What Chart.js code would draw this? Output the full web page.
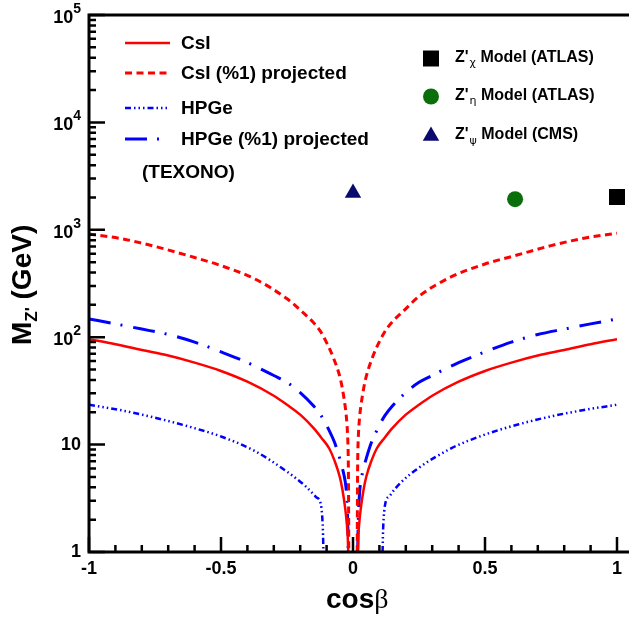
<!DOCTYPE html>
<html>
<head>
<meta charset="utf-8">
<title>Z' mass limits vs cos beta</title>
<script src="https://cdn.jsdelivr.net/npm/chart.js@4.4.0/dist/chart.umd.min.js"></script>
<style>
  html, body { margin: 0; padding: 0; background: #fff; }
  #chart { display: block; }
</style>
</head>
<body>
<canvas id="chart" width="629" height="620"></canvas>
<script>
// CsI (solid red) - two branches split by null
const csiX = [-1, -0.9, -0.8, -0.7, -0.6, -0.5, -0.4, -0.3, -0.25, -0.2, -0.15, -0.12, -0.09, -0.07, -0.05, -0.04, -0.03, -0.024, -0.02, -0.018, null,
              0.018, 0.02, 0.024, 0.03, 0.04, 0.05, 0.07, 0.09, 0.12, 0.15, 0.2, 0.25, 0.3, 0.4, 0.5, 0.6, 0.7, 0.8, 0.9, 1];
const csiY = [96, 86, 76, 67.5, 58, 48.5, 38.5, 28.5, 23.5, 19, 14.3, 11.6, 9.2, 7.1, 5, 3.8, 2.6, 1.9, 1.4, 1, null,
              1, 1.4, 1.9, 2.6, 3.8, 5, 7.1, 9.2, 11.6, 14.3, 19, 23.5, 28.5, 38.5, 48.5, 58, 67.5, 76, 86, 96];

// CsI (%1) projected (dashed red)
const csiProjX = [-1, -0.875, -0.75, -0.625, -0.5, -0.375, -0.25, -0.19, -0.15, -0.125, -0.1, -0.075, -0.05, -0.04, -0.03, -0.025, -0.02, -0.018, -0.017, -0.016, null,
                  0.016, 0.017, 0.018, 0.02, 0.025, 0.03, 0.04, 0.05, 0.075, 0.1, 0.125, 0.15, 0.19, 0.25, 0.375, 0.5, 0.625, 0.75, 0.875, 1];
const csiProjY = [915, 825, 700, 575, 464, 352, 228, 170, 137, 115, 89, 65, 43, 33, 23, 18, 11.5, 7.5, 4, 1, null,
                  1, 4, 7.5, 11.5, 18, 23, 33, 43, 66, 91, 117, 140, 174, 240, 368, 480, 585, 712, 835, 930];

// HPGe (blue dash-dot-dot-dot)
const hpgeX = [-1, -0.875, -0.75, -0.625, -0.5, -0.375, -0.25, -0.18, -0.14, -0.122, -0.117, -0.114, -0.112, null,
               0.112, 0.114, 0.117, 0.122, 0.14, 0.18, 0.25, 0.375, 0.5, 0.625, 0.75, 0.875, 1];
const hpgeY = [23.5, 20.8, 17.8, 14.8, 11.9, 8.8, 5.6, 4.1, 3.25, 2.8, 2.2, 1.6, 1, null,
               1, 1.6, 2.2, 2.8, 3.35, 4.4, 6.1, 9.3, 12.4, 15.4, 18.3, 21, 23.5];

// HPGe (%1) projected (blue long dash-dot)
const hpgeProjX = [-1, -0.9, -0.8, -0.7, -0.6, -0.5, -0.4, -0.3, -0.25, -0.2, -0.15, -0.12, -0.09, -0.07, -0.05, -0.04, -0.03, -0.025, -0.021, -0.019, -0.018, null,
                   0.018, 0.019, 0.021, 0.025, 0.03, 0.04, 0.05, 0.07, 0.09, 0.12, 0.15, 0.2, 0.25, 0.3, 0.4, 0.5, 0.6, 0.7, 0.8, 0.9, 1];
const hpgeProjY = [148, 133, 119, 106, 90, 73, 58, 44, 38, 30.5, 23, 18.5, 13.5, 10.5, 7.4, 6, 4.6, 3.6, 2.3, 1.5, 1, null,
                   1, 1.5, 2.3, 3.6, 4.6, 6, 7.4, 10.5, 13.5, 18.5, 23, 30.5, 38, 44, 58, 73, 90, 106, 119, 133, 148];

// Collider limits: chi (ATLAS), eta (ATLAS), psi (CMS)
const modelSub = ['χ', 'η', 'ψ'];
const modelExp = ['ATLAS', 'ATLAS', 'CMS'];
const modelX = [1, 0.614, 0];
const modelY = [2020, 1930, 2200];
const modelStyle = ['rect', 'circle', 'triangle'];
const modelColor = ['#000000', '#0a6e0a', '#0a0a6e'];
const modelRadius = [11.3, 8, 9.5];

// axis ticks
const xTicks = [-1, -0.5, 0, 0.5, 1];
const xTickLabels = ['-1', '-0.5', '0', '0.5', '1'];
const yTicks = [1, 10, 100, 1000, 10000, 100000];
const yTickBase = ['1', '10', '10', '10', '10', '10'];
const yTickSup = ['', '', '2', '3', '4', '5'];

const seriesNames = ['CsI', 'CsI (%1) projected', 'HPGe', 'HPGe (%1) projected'];
const seriesColor = ['#ff0000', '#ff0000', '#0000ff', '#0000ff'];
const seriesDash = [[], [7, 4.5], [6, 3, 1.5, 3, 1.5, 3, 1.5, 3], [22, 10, 2, 11]];
const seriesWidth = [2.5, 3, 2.5, 3];

const FONT = '"Liberation Sans", Arial, Helvetica, sans-serif';

function zip(xs, ys) {
    return xs.map((x, i) => ({ x: x, y: ys[i] }));
}

const curves = [[csiX, csiY], [csiProjX, csiProjY], [hpgeX, hpgeY], [hpgeProjX, hpgeProjY]];

const datasets = curves.map((c, i) => ({
    label: seriesNames[i],
    data: zip(c[0], c[1]),
    showLine: true,
    spanGaps: false,
    borderColor: seriesColor[i],
    borderWidth: seriesWidth[i],
    borderDash: seriesDash[i],
    cubicInterpolationMode: 'monotone',
    pointRadius: 0,
    fill: false
}));

datasets.push({
    label: 'models',
    data: zip(modelX, modelY),
    showLine: false,
    pointStyle: modelStyle,
    pointRadius: modelRadius,
    backgroundColor: modelColor,
    borderColor: modelColor,
    borderWidth: 0,
    clip: false
});

function drawMarker(ctx, style, x, y, r, color) {
    ctx.fillStyle = color;
    ctx.beginPath();
    if (style === 'rect') {
        const s = Math.SQRT1_2 * r;
        ctx.rect(x - s, y - s, 2 * s, 2 * s);
    } else if (style === 'circle') {
        ctx.arc(x, y, r, 0, Math.PI * 2);
    } else {
        ctx.moveTo(x, y - r);
        ctx.lineTo(x + r * Math.sin(Math.PI / 3), y + r / 2);
        ctx.lineTo(x - r * Math.sin(Math.PI / 3), y + r / 2);
        ctx.closePath();
    }
    ctx.fill();
}

const decorations = {
    id: 'decorations',
    afterDraw(chart) {
        const ctx = chart.ctx;
        const xs = chart.scales.x;
        const ys = chart.scales.y;
        const area = chart.chartArea;
        ctx.save();

        // frame: left axis, bottom axis, top line
        ctx.strokeStyle = '#000';
        ctx.lineWidth = 3;
        ctx.beginPath();
        ctx.moveTo(area.left - 1.5, area.top); ctx.lineTo(chart.width, area.top);
        ctx.moveTo(area.left, area.top); ctx.lineTo(area.left, area.bottom);
        ctx.moveTo(area.left - 1.5, area.bottom); ctx.lineTo(chart.width, area.bottom);
        ctx.stroke();

        // ticks, drawn inward
        ctx.lineWidth = 2.5;
        ctx.beginPath();
        for (let i = -10; i <= 10; i++) {
            const px = xs.getPixelForValue(i / 10);
            const len = (i % 5 === 0) ? 15 : 7;
            ctx.moveTo(px, area.bottom); ctx.lineTo(px, area.bottom - len);
        }
        for (let e = 0; e <= 5; e++) {
            const base = Math.pow(10, e);
            let py = ys.getPixelForValue(base);
            ctx.moveTo(area.left, py); ctx.lineTo(area.left + 16, py);
            if (e === 5) break;
            for (let m = 2; m < 10; m++) {
                py = ys.getPixelForValue(m * base);
                ctx.moveTo(area.left, py); ctx.lineTo(area.left + 7, py);
            }
        }
        ctx.stroke();

        // tick labels
        ctx.fillStyle = '#000';
        ctx.textBaseline = 'middle';
        ctx.textAlign = 'center';
        ctx.font = 'bold 18px ' + FONT;
        xTicks.forEach((v, i) => {
            ctx.fillText(xTickLabels[i], xs.getPixelForValue(v), area.bottom + 17);
        });
        const labelRight = area.left - 8;
        yTicks.forEach((v, i) => {
            const py = ys.getPixelForValue(v);
            ctx.font = 'bold 14px ' + FONT;
            const supW = yTickSup[i] ? ctx.measureText(yTickSup[i]).width : 0;
            ctx.textAlign = 'left';
            if (yTickSup[i]) ctx.fillText(yTickSup[i], labelRight - supW, py - 6);
            ctx.font = 'bold 18px ' + FONT;
            ctx.textAlign = 'right';
            ctx.fillText(yTickBase[i], labelRight - supW, yTickSup[i] ? py + 3 : py);
        });

        // axis titles
        ctx.textAlign = 'left';
        ctx.font = 'bold 28px ' + FONT;
        ctx.fillText('cos', 326, 600);
        const cosW = ctx.measureText('cos').width;
        ctx.font = '28px "Liberation Serif", "DejaVu Serif", serif';
        ctx.fillText('β', 326 + cosW, 601);

        ctx.save();
        ctx.translate(23, 285);
        ctx.rotate(-Math.PI / 2);
        let tx = -60;
        ctx.font = 'bold 28px ' + FONT;
        ctx.fillText('M', tx, 0);
        tx += ctx.measureText('M').width;
        ctx.font = 'bold 17px ' + FONT;
        ctx.fillText("Z'", tx, 9);
        tx += ctx.measureText("Z'").width;
        ctx.font = 'bold 28px ' + FONT;
        ctx.fillText(' (GeV)', tx, 0);
        ctx.restore();

        // left legend (limit curves)
        const legY = [43, 73, 108, 139];
        seriesNames.forEach((name, i) => {
            ctx.strokeStyle = seriesColor[i];
            ctx.lineWidth = seriesWidth[i];
            ctx.setLineDash(seriesDash[i]);
            ctx.beginPath();
            ctx.moveTo(125, legY[i]); ctx.lineTo(170, legY[i]);
            ctx.stroke();
            ctx.setLineDash([]);
            ctx.fillStyle = '#000';
            ctx.font = 'bold 19px ' + FONT;
            ctx.fillText(name, 181, legY[i] + 1);
        });
        ctx.fillText('(TEXONO)', 142, 173);

        // right legend (collider models)
        const mLegY = [58.5, 96.5, 136];
        modelSub.forEach((sub, i) => {
            drawMarker(ctx, modelStyle[i], 431, mLegY[i], modelRadius[i], modelColor[i]);
            ctx.fillStyle = '#000';
            let x = 455;
            const y = mLegY[i] - 1;
            ctx.font = 'bold 16px ' + FONT;
            ctx.fillText("Z'", x, y);
            x += ctx.measureText("Z'").width;
            ctx.font = '11px "DejaVu Sans", sans-serif';
            ctx.fillText(sub, x + 1, y + 6);
            x += ctx.measureText(sub).width + 1;
            ctx.font = 'bold 16px ' + FONT;
            ctx.fillText(' Model (' + modelExp[i] + ')', x, y);
        });

        ctx.restore();
    }
};

new Chart(document.getElementById('chart'), {
    type: 'scatter',
    data: { datasets: datasets },
    options: {
        responsive: false,
        animation: false,
        layout: { padding: { left: 89, top: 15, right: 12, bottom: 68 } },
        plugins: { legend: { display: false }, tooltip: { enabled: false } },
        scales: {
            x: { type: 'linear', min: -1, max: 1, display: false },
            y: { type: 'logarithmic', min: 1, max: 100000, display: false }
        }
    },
    plugins: [decorations]
});
</script>
</body>
</html>
